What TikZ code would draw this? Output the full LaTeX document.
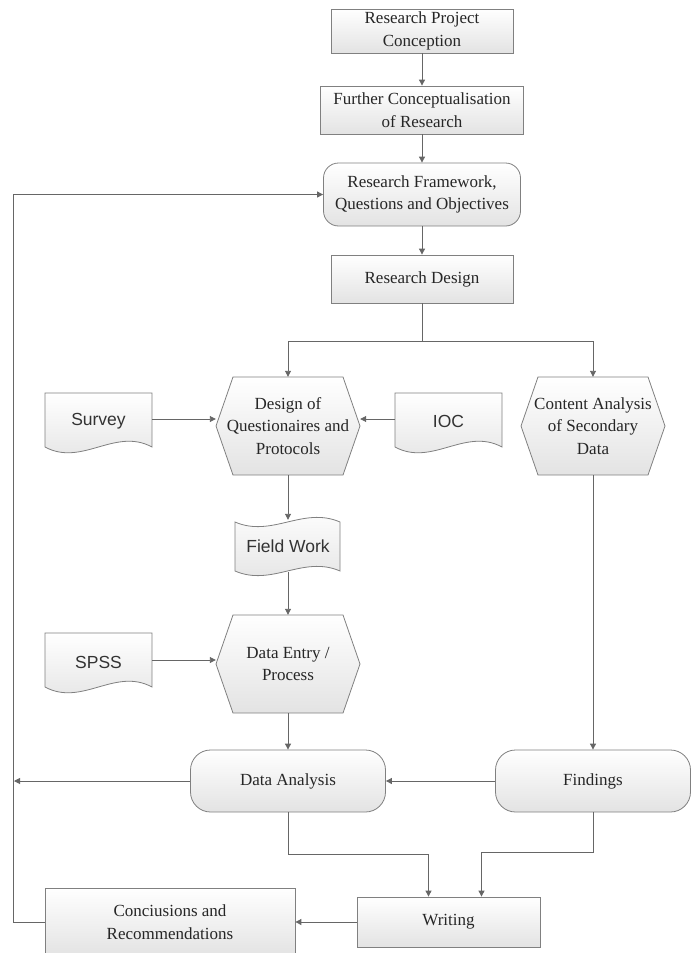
\documentclass[tikz,border=0pt]{standalone}
\usepackage{fontspec}
\setmainfont{Liberation Serif}
\newfontfamily\sansf{Liberation Sans}
\usetikzlibrary{arrows.meta,calc}
\tikzset{
 boxfill/.style={draw=black!50, line width=0.8pt, top color=white, bottom color=black!11},
 lbl/.style={font=\fontsize{17}{22.5}\selectfont, text=black!85, align=center, inner sep=0pt},
 sl/.style={font=\sansf\fontsize{17.5}{21}\selectfont, text=black!80, align=center, inner sep=0pt},
 plainbox/.style={boxfill, lbl, rectangle},
 roundbox/.style={boxfill, lbl, rectangle, rounded corners=#1},
 roundbox/.default=15pt,
 conn/.style={draw=black!60, line width=0.9pt},
 arr/.style={conn, -{Triangle[length=6pt,width=6pt]}},
}
\begin{document}
\begin{tikzpicture}[x=1pt,y=-1pt]
\useasboundingbox (0,0) rectangle (699,953);
% top boxes
\node[plainbox, minimum width=182pt, minimum height=44pt] (conc) at (422,31) {Research Project\\Conception};
\node[plainbox, minimum width=203pt, minimum height=48pt] (further) at (422,110) {Further Conceptualisation\\of Research};
\node[roundbox=15pt, minimum width=197pt, minimum height=63pt] (frame) at (422,194.5) {Research Framework,\\Questions and Objectives};
\node[plainbox, minimum width=182pt, minimum height=48pt] (design) at (422,279) {Research Design};
% hexagons
\path[boxfill] (216,426) -- (233,377) -- (343,377) -- (360,426) -- (343,475) -- (233,475) -- cycle;
\node[lbl, minimum width=144pt, minimum height=98pt] (dq) at (288,426) {Design of\\Questionaires and\\Protocols};
\path[boxfill] (521,426) -- (538,377) -- (648,377) -- (665,426) -- (648,475) -- (538,475) -- cycle;
\node[lbl, minimum width=144pt, minimum height=98pt] (ca) at (593,426) {Content Analysis\\of Secondary\\Data};
\path[boxfill] (216,664) -- (233,615) -- (343,615) -- (360,664) -- (343,713) -- (233,713) -- cycle;
\node[lbl, minimum width=144pt, minimum height=98pt] (de) at (288,664) {Data Entry /\\Process};
% documents
\path[boxfill] (45,393) -- (152,393) -- (152,447) .. controls (115,427) and (82,467) .. (45,447) -- cycle;
\node[sl, minimum width=107pt, minimum height=56pt] (survey) at (98.5,421) {Survey};
\path[boxfill] (395,393) -- (502,393) -- (502,447) .. controls (465,427) and (432,467) .. (395,447) -- cycle;
\node[sl, minimum width=107pt, minimum height=56pt] (ioc) at (448.5,421) {IOC};
\path[boxfill] (45,633) -- (152,633) -- (152,687) .. controls (115,667) and (82,707) .. (45,687) -- cycle;
\node[sl, minimum width=107pt, minimum height=56pt] (spss) at (98.5,662) {SPSS};
% tape
\path[boxfill] (235,522) .. controls (272,538) and (303,506) .. (340,522) -- (340,571) .. controls (303,555) and (272,587) .. (235,571) -- cycle;
\node[sl, minimum width=105pt, minimum height=52pt] (fw) at (288,546) {Field Work};
% lower boxes
\node[roundbox=20pt, minimum width=195pt, minimum height=62pt] (da) at (288,781) {Data Analysis};
\node[roundbox=20pt, minimum width=195pt, minimum height=62pt] (fi) at (593,781) {Findings};
\node[plainbox, minimum width=183pt, minimum height=50pt] (wr) at (448.5,922) {Writing};
\node[plainbox, minimum width=250pt, minimum height=68pt] (cr) at (170,922) {Conciusions and\\Recommendations};
\coordinate (rail) at (14,781);
% connectors
\draw[arr] (conc) -- (further);
\draw[arr] (further) -- (frame);
\draw[arr] (frame) -- (design);
\draw[arr] (design.south) -- ++(0,38) -| (dq.north);
\draw[arr] (design.south) -- ++(0,38) -| (ca.north);
\draw[arr] ([yshift=2pt]survey.east) -- ([yshift=2pt]survey.east -| dq.west);
\draw[arr] ([yshift=2pt]ioc.west) -- ([yshift=2pt]ioc.west -| dq.east);
\draw[arr] (dq.south) -- (fw.north);
\draw[arr] (fw.south) -- (de.north);
\draw[arr] ([yshift=2pt]spss.east) -- ([yshift=2pt]spss.east -| de.west);
\draw[arr] (de.south) -- (da.north);
\draw[arr] (ca.south) -- (fi.north);
\draw[arr] (fi.west) -- (da.east);
\draw[arr] (da.west) -- (rail);
\draw[arr] (da.south) -- ++(0,42) -| ([xshift=-20pt]wr.north);
\draw[arr] (fi.south) -- ++(0,40) -| ([xshift=33pt]wr.north);
\draw[arr] (wr.west) -- (cr.east);
\draw[arr] (cr.west) -- ++(-31,0) |- (frame.west);
\end{tikzpicture}
\end{document}
